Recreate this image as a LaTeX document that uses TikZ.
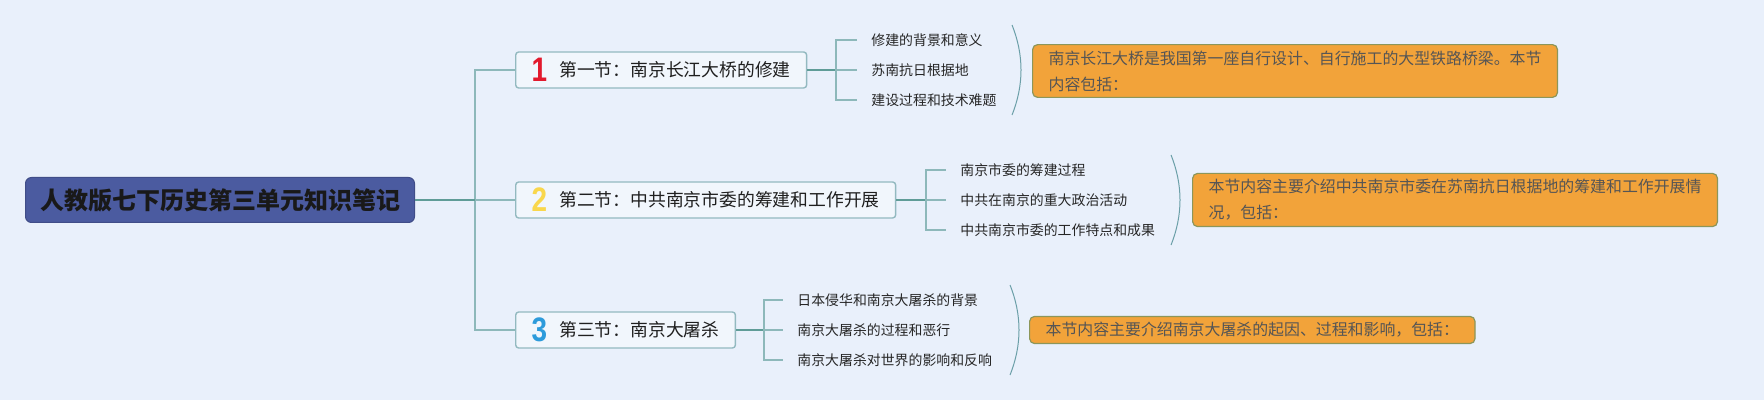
\documentclass[tikz,border=0pt]{standalone}
\usepackage{fontspec}
\usepackage{graphicx}
\usepackage{tikz}
\newfontfamily\cjk{Noto Sans CJK SC}
\newfontfamily\numfont{Liberation Sans}
\definecolor{bgblue}{HTML}{E9F0FB}
\definecolor{rootfill}{HTML}{4B5BA0}
\definecolor{secfill}{HTML}{F1F6FC}
\definecolor{secline}{HTML}{93B9C0}
\definecolor{darkteal}{HTML}{5F9C97}
\definecolor{lightteal}{HTML}{8DB8BA}
\definecolor{arcteal}{HTML}{6B9FA8}
\definecolor{notefill}{HTML}{F2A33A}
\definecolor{noteline}{HTML}{8C965A}
\definecolor{notetext}{HTML}{555555}
\definecolor{numred}{HTML}{E2192C}
\definecolor{numyellow}{HTML}{F9D74C}
\definecolor{numblue}{HTML}{2D9BDB}
\newcommand{\numtag}[2]{\smash{\raisebox{-2.5pt}{\scalebox{.82}[1]{\numfont\bfseries\fontsize{17}{17}\selectfont\color{#1}#2}}}\hspace{6pt}}

\begin{document}
\begin{tikzpicture}
  [x=.5pt,y=-.5pt,every node/.style={font=\cjk,inner sep=0pt},
   rootbox/.style={draw=rootfill!85!black,fill=rootfill,rounded corners=3pt,line width=.5pt,
     minimum width=194.5pt,minimum height=22.5pt,font=\cjk\bfseries\fontsize{12}{14}\selectfont,text=black!90},
   secbox/.style={draw=secline,fill=secfill,rounded corners=1.5pt,line width=.7pt,anchor=west,
     inner xsep=8pt,minimum height=18pt,font=\cjk\fontsize{8.9}{10}\selectfont,text=black!88},
   leaf/.style={anchor=west,inner xsep=7pt,font=\cjk\fontsize{6.95}{8}\selectfont,text=black!85},
   notebox/.style={draw=noteline,fill=notefill,rounded corners=2.5pt,line width=.6pt,anchor=west,
     inner xsep=8pt,inner ysep=3pt,align=left,font=\cjk\fontsize{7.95}{13}\selectfont,text=notetext},
   trunk/.style={draw=lightteal,line width=.75pt},
   stem/.style={draw=darkteal,line width=1pt},
   twig/.style={draw=lightteal,line width=.75pt},
   brace/.style={draw=arcteal,line width=.5pt}]
  \useasboundingbox[fill=bgblue] (0,0) rectangle (1764,400);
  \node[rootbox] (r) at (220,200) {人教版七下历史第三单元知识笔记};
  \coordinate (j) at (475,200);
  \node[secbox] (s1) at (515,70)  {\numtag{numred}{1}第一节：南京长江大桥的修建};
  \node[secbox] (s2) at (515,200) {\numtag{numyellow}{2}第二节：中共南京市委的筹建和工作开展};
  \node[secbox] (s3) at (515,330) {\numtag{numblue}{3}第三节：南京大屠杀};
  \coordinate (b1) at (836,70);
  \coordinate (b2) at (926,200);
  \coordinate (b3) at (764,330);
  \node[leaf] (l11) at (857,40)  {修建的背景和意义};
  \node[leaf] (l12) at (857,70)  {苏南抗日根据地};
  \node[leaf] (l13) at (857,100) {建设过程和技术难题};
  \node[leaf] (l21) at (946,170) {南京市委的筹建过程};
  \node[leaf] (l22) at (946,200) {中共在南京的重大政治活动};
  \node[leaf] (l23) at (946,230) {中共南京市委的工作特点和成果};
  \node[leaf] (l31) at (783,300) {日本侵华和南京大屠杀的背景};
  \node[leaf] (l32) at (783,330) {南京大屠杀的过程和恶行};
  \node[leaf] (l33) at (783,360) {南京大屠杀对世界的影响和反响};
  \node[notebox] (n1) at (1032,71)  {南京长江大桥是我国第一座自行设计、自行施工的大型铁路桥梁。本节\\内容包括：};
  \node[notebox] (n2) at (1192,200) {本节内容主要介绍中共南京市委在苏南抗日根据地的筹建和工作开展情\\况，包括：};
  \node[notebox] (n3) at (1029,330) {本节内容主要介绍南京大屠杀的起因、过程和影响，包括：};
  \foreach \from/\to in {j/s1.west,j/s2.west,j/s3.west}
    \draw[trunk] (\from) |- (\to);
  \foreach \from/\to in {r.east/j,s1.east/b1,s2.east/b2,s3.east/b3}
    \draw[stem] (\from) -- (\to);
  \foreach \from/\to in {b1/l11.west,b1/l12.west,b1/l13.west,b2/l21.west,b2/l22.west,b2/l23.west,b3/l31.west,b3/l32.west,b3/l33.west}
    \draw[twig] (\from) |- (\to);
  \foreach \x/\y in {1012/70,1171/200,1010/330}
    \draw[brace] (\x,\y-45) .. controls (\x+12,\y-15) and (\x+12,\y+15) .. (\x,\y+45);
\end{tikzpicture}
\end{document}
